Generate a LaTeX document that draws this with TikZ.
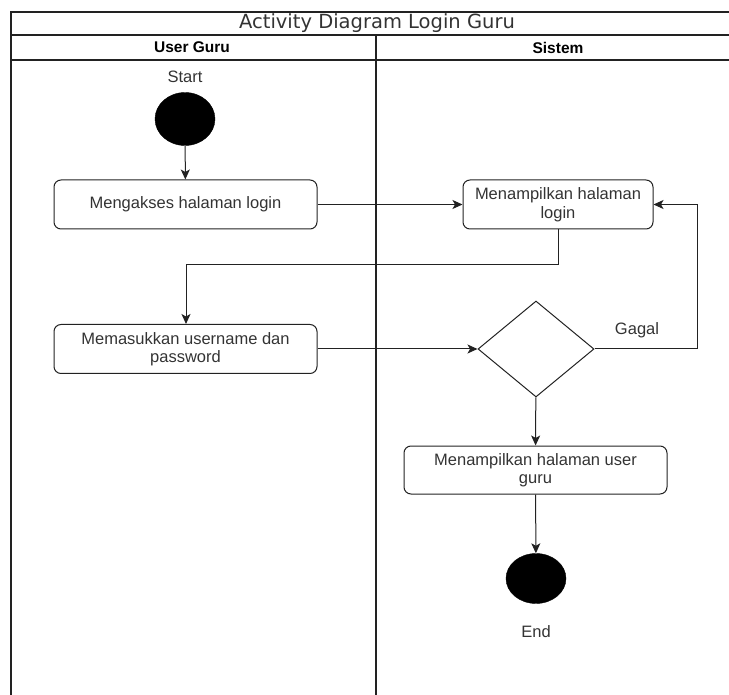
\documentclass[tikz,border=0pt]{standalone}
\usepackage{fontspec}
\setmainfont{Liberation Sans}
\newfontfamily\titlefont{DejaVu Sans}
\usetikzlibrary{shapes.geometric,arrows.meta}
\definecolor{txt}{HTML}{333333}
\definecolor{ln}{HTML}{222222}
\begin{document}
\begin{tikzpicture}[x=1pt,y=-1pt,
  act/.style={draw=ln, line width=1pt, rounded corners=7pt, align=center,
    text=txt, font=\fontsize{16.5}{18.5}\selectfont, inner sep=0pt},
  lbl/.style={text=txt, font=\fontsize{16.5}{18.5}\selectfont, inner sep=0pt},
  dot/.style={ellipse, fill=black, draw=black, minimum width=60pt, minimum height=53pt, inner sep=0pt},
  flow/.style={draw=ln, line width=1pt, -{Stealth[length=10pt,width=9pt,inset=2.5pt]}},
  frame/.style={draw=ln, line width=1.3pt}]
\useasboundingbox (0,0) rectangle (729,695);
% frame
\draw[frame] (11,695) -- (11,12) -- (729,12);
\draw[frame] (11,35) -- (729,35);
\draw[frame] (11,60) -- (729,60);
\draw[frame] (376,35) -- (376,695);
\node[text=txt, font=\titlefont\fontsize{19.5}{22}\selectfont] (title) at (377,23.5) {Activity Diagram Login Guru};
\node[font=\bfseries\fontsize{15.5}{18}\selectfont] (lane1) at (192,47.5) {User Guru};
\node[font=\bfseries\fontsize{15.5}{18}\selectfont] (lane2) at (558,47.5) {Sistem};
% nodes
\node[lbl] (startlbl) at (185,77) {Start};
\node[dot] (start) at (185,119) {};
\node[act, minimum width=263pt, minimum height=49pt] (a1) at (185.5,204.5) {Mengakses halaman login};
\node[act, minimum width=263pt, minimum height=49pt] (a2) at (185.5,349) {Memasukkan username dan\\password};
\node[act, minimum width=190pt, minimum height=49pt] (s1) at (558,204.5) {Menampilkan halaman\\login};
\node[diamond, draw=ln, line width=1pt, minimum width=116pt, minimum height=96pt, inner sep=0pt] (dec) at (536,349) {};
\node[act, minimum width=263pt, minimum height=48pt] (s2) at (535.5,470) {Menampilkan halaman user\\guru};
\node[dot, minimum height=50pt] (end) at (536,578.5) {};
\node[lbl] (endlbl) at (536,632) {End};
\node[lbl] (gagal) at (637,330) {Gagal};
\coordinate (c1) at (697,349);
\coordinate (c2) at (697,204.5);
\coordinate (c3) at (558,265);
\coordinate (c4) at (186,265);
% connectors
\draw[flow] (start) -- (a1);
\draw[flow] (a1) -- (s1);
\draw[flow] (s1.south) -- (c3) -- (c4) -- (a2.north -| c4);
\draw[flow] (a2) -- (dec);
\draw[flow] (dec.east) -- (c1) -- (c2) -- (s1.east);
\draw[flow] (dec) -- (s2);
\draw[flow] (s2) -- (end);
\end{tikzpicture}
\end{document}
